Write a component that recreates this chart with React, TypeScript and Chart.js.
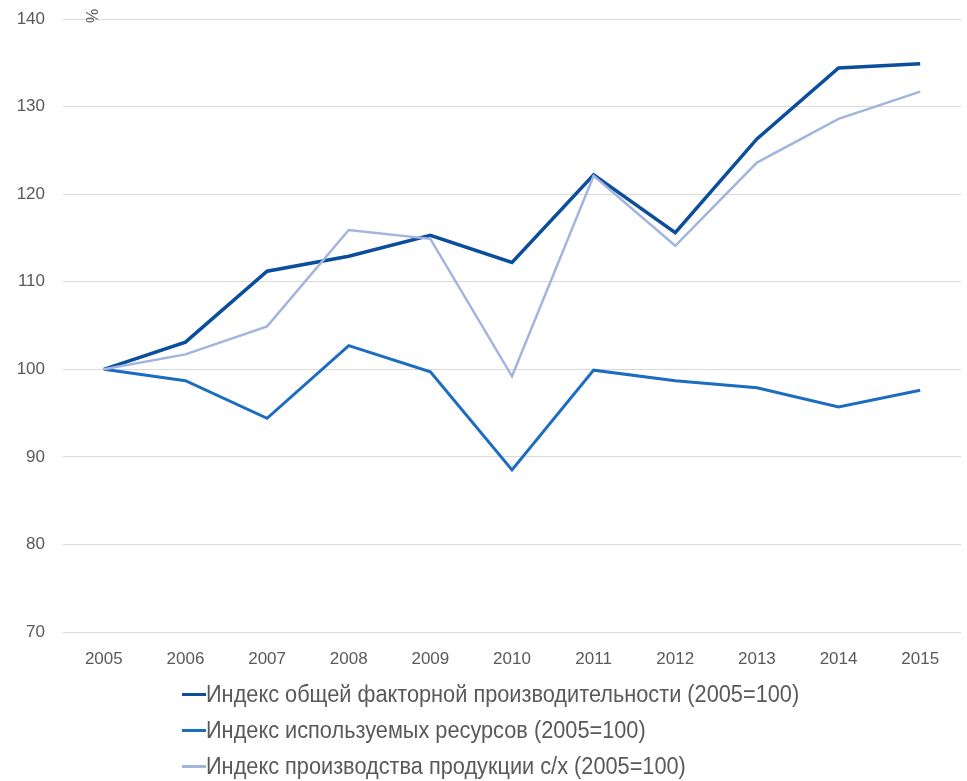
import React, { useEffect, useRef } from "react";
import { Chart, registerables } from "chart.js";

Chart.register(...registerables);

const years = ["2005", "2006", "2007", "2008", "2009", "2010", "2011", "2012", "2013", "2014", "2015"];
const tfpIndex = [100, 103.1, 111.2, 112.9, 115.3, 112.2, 122.2, 115.6, 126.3, 134.4, 134.9];
const resourceIndex = [100, 98.7, 94.4, 102.7, 99.7, 88.5, 99.9, 98.7, 97.9, 95.7, 97.6];
const outputIndex = [100, 101.7, 104.9, 115.9, 114.9, 99.2, 122.1, 114.1, 123.6, 128.6, 131.7];
const seriesLabels = [
  "Индекс общей факторной производительности (2005=100)",
  "Индекс используемых ресурсов (2005=100)",
  "Индекс производства продукции с/х (2005=100)",
];
const seriesColors = ["#0B4E9B", "#1C6CC2", "#A3B5DF"];
const seriesWidths = [3.5, 3, 2.5];
const yAxisUnit = "%";

const FONT = "'Liberation Sans', Arial, sans-serif";

const unitPlugin = {
  id: "unitLabel",
  afterDraw(chart: any) {
    const ctx = chart.ctx;
    ctx.save();
    ctx.translate(94, 16);
    ctx.rotate(-Math.PI / 2);
    ctx.font = `16px ${FONT}`;
    ctx.fillStyle = "#595959";
    ctx.textAlign = "center";
    ctx.textBaseline = "middle";
    ctx.fillText(yAxisUnit, 0, 0);
    ctx.restore();
  },
};

export default function App() {
  const ref = useRef<HTMLCanvasElement>(null);
  useEffect(() => {
    const dataArrays = [tfpIndex, resourceIndex, outputIndex];
    const chart = new Chart(ref.current!, {
      type: "line",
      data: {
        labels: years,
        datasets: dataArrays.map((d, i) => ({
          label: seriesLabels[i],
          data: d,
          borderColor: seriesColors[i],
          backgroundColor: seriesColors[i],
          borderWidth: seriesWidths[i],
          pointRadius: 0,
          tension: 0,
          order: 3 - i,
        })),
      },
      options: {
        animation: false,
        responsive: false,
        maintainAspectRatio: false,
        layout: { padding: { top: 19, right: 6, left: 0, bottom: 0 } },
        plugins: { legend: { display: false }, tooltip: { enabled: false } },
        scales: {
          x: {
            offset: true,
            grid: { display: false, drawTicks: false },
            border: { display: false },
            ticks: { color: "#595959", font: { family: FONT, size: 17 }, padding: 17, maxRotation: 0 },
            afterFit: (s: any) => { s.height = 48; s.paddingLeft = 0; s.paddingRight = 0; },
          },
          y: {
            min: 70,
            max: 140,
            grid: { color: "#D9D9D9", lineWidth: 1, drawTicks: false },
            border: { display: false },
            ticks: { stepSize: 10, color: "#595959", font: { family: FONT, size: 17 }, padding: 18 },
            afterFit: (s: any) => { s.width = 63; s.paddingTop = 0; s.paddingBottom = 0; },
          },
        },
      },
      plugins: [unitPlugin],
    });
    return () => chart.destroy();
  }, []);

  return (
    <div style={{ position: "fixed", left: 0, top: 0, width: 967, height: 781, background: "#fff" }}>
      <canvas ref={ref} width={967} height={680} style={{ display: "block", width: 967, height: 680 }} />
      <div style={{ position: "absolute", left: 182, top: 676, fontFamily: FONT, fontSize: 23, color: "#595959" }}>
        {seriesLabels.map((l, i) => (
          <div key={l} style={{ display: "flex", alignItems: "center", height: 36, whiteSpace: "nowrap" }}>
            <span style={{ display: "inline-block", width: 24, height: 3, background: seriesColors[i] }} />
            <span style={{ display: "inline-block", transform: "scaleX(0.945)", transformOrigin: "left center" }}>{l}</span>
          </div>
        ))}
      </div>
    </div>
  );
}
